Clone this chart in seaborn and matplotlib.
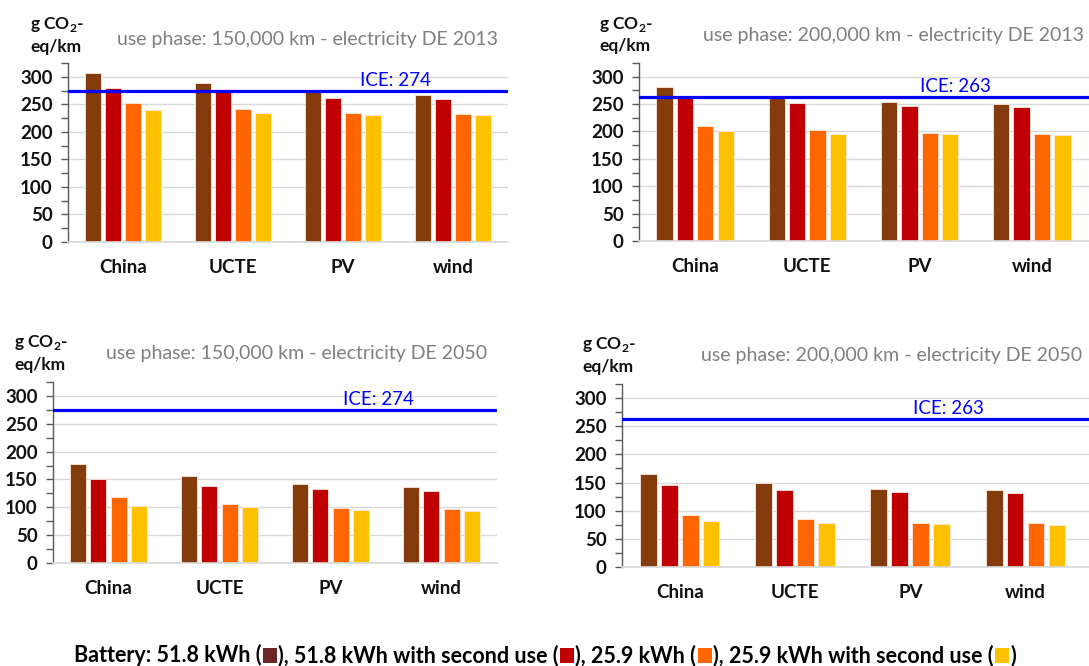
import numpy as np
import pandas as pd
import matplotlib
matplotlib.use("Agg")
import matplotlib.pyplot as plt
import matplotlib.transforms as mtransforms
from matplotlib.ticker import MultipleLocator
from matplotlib.offsetbox import TextArea, DrawingArea, HPacker, AnchoredOffsetbox
from matplotlib.patches import Rectangle
import seaborn as sns

# ---------------------------------------------------------------- data
regions = ["China", "UCTE", "PV", "wind"]
batteries = ["51.8 kWh", "51.8 kWh with second use", "25.9 kWh", "25.9 kWh with second use"]

# use phase 150,000 km, electricity DE 2013 (g CO2-eq/km)
km150_de2013_518 = [307, 288, 273, 267]
km150_de2013_518_second = [280, 272, 261, 260]
km150_de2013_259 = [252, 242, 234, 233]
km150_de2013_259_second = [240, 234, 230, 230]

# use phase 200,000 km, electricity DE 2013
km200_de2013_518 = [281, 261, 254, 250]
km200_de2013_518_second = [261, 252, 246, 245]
km200_de2013_259 = [210, 203, 197, 196]
km200_de2013_259_second = [200, 196, 195, 193]

# use phase 150,000 km, electricity DE 2050
km150_de2050_518 = [178, 157, 141, 137]
km150_de2050_518_second = [150, 139, 132, 130]
km150_de2050_259 = [118, 106, 99, 97]
km150_de2050_259_second = [103, 100, 95, 94]

# use phase 200,000 km, electricity DE 2050
km200_de2050_518 = [166, 150, 139, 136]
km200_de2050_518_second = [146, 137, 133, 132]
km200_de2050_259 = [92, 85, 79, 78]
km200_de2050_259_second = [82, 78, 76, 75]

# combustion-engine reference per use-phase length
ice_150k = 274
ice_200k = 263

titles = [
    "use phase: 150,000 km - electricity DE 2013",
    "use phase: 200,000 km - electricity DE 2013",
    "use phase: 150,000 km - electricity DE 2050",
    "use phase: 200,000 km - electricity DE 2050",
]

bar_colors = ["#843C0C", "#C00000", "#FF6600", "#FFC000"]
key_colors = ["#6B2626", "#C00000", "#FF6600", "#FFC000"]

# ---------------------------------------------------------------- style
sns.set_theme(style="white")
plt.rcParams["font.family"] = ["Lato", "DejaVu Sans"]
plt.rcParams["mathtext.fontset"] = "custom"
plt.rcParams["mathtext.rm"] = "Lato"
plt.rcParams["mathtext.bf"] = "Lato:bold"

W, H = 1089, 666
fig = plt.figure(figsize=(W / 100, H / 100), dpi=100)
INK = "#111111"


def fx(px):
    return px / W


def fy(py):
    return 1 - py / H


def panel(values, ice, title, box, title_xy, ylab_xy, ice_x, xmax=3.5):
    left, right, y_zero, y_top = box
    ax = fig.add_axes([fx(left), fy(y_zero), (right - left) / W, (y_zero - y_top) / H])
    df = pd.DataFrame({
        "region": regions * len(batteries),
        "battery": np.repeat(batteries, len(regions)),
        "value": np.concatenate(values),
    })
    sns.barplot(data=df, x="region", y="value", hue="battery", hue_order=batteries,
                palette=bar_colors, width=0.727, gap=0.2, ax=ax, legend=False,
                edgecolor="#FBE9E0", linewidth=0.6, saturation=1)
    ax.set_xlim(-0.5, xmax)
    ax.set_ylim(0, 325)
    ax.set_xlabel("")
    ax.set_ylabel("")
    ax.yaxis.set_major_locator(MultipleLocator(50))
    ax.yaxis.set_minor_locator(MultipleLocator(25))
    ax.grid(axis="y", which="major", color="#D9D9D9", lw=1)
    ax.set_axisbelow(True)
    for s in ("top", "right"):
        ax.spines[s].set_visible(False)
    ax.spines["bottom"].set_color("#D9D9D9")
    ax.spines["left"].set_color("#595959")
    ax.spines["left"].set_linewidth(1)
    ax.tick_params(axis="y", which="both", direction="out", left=True, length=5,
                   width=1, color="#595959", pad=6)
    ax.tick_params(axis="y", labelsize=13.5, labelcolor=INK)
    for t in ax.get_yticklabels():
        t.set_fontweight("bold")
    ax.tick_params(axis="x", length=0, pad=12, labelsize=13.5, labelcolor=INK)
    for t in ax.get_xticklabels():
        t.set_fontweight("bold")

    ax.axhline(ice, color="#0000FF", lw=2.3, zorder=5)
    trans = mtransforms.blended_transform_factory(ax.transAxes, ax.transData)
    ax.text(ice_x, ice + 9, f"ICE: {ice}", transform=trans, ha="center",
            va="baseline", color="#0000FF", fontsize=13.5)

    fig.text(fx(title_xy[0]), fy(title_xy[1]), title, ha="right", va="center",
             color="#7F7F7F", fontsize=14)
    fig.text(fx(ylab_xy[0]), fy(ylab_xy[1]), r"g CO$_{\mathbf{2}}$-", ha="left",
             va="center", fontsize=12.5, fontweight="bold", color=INK)
    fig.text(fx(ylab_xy[0]), fy(ylab_xy[1] + 22), "eq/km", ha="left",
             va="center", fontsize=12.5, fontweight="bold", color=INK)
    return ax


panel([km150_de2013_518, km150_de2013_518_second, km150_de2013_259, km150_de2013_259_second],
      ice_150k, titles[0], (68, 508, 242, 63), (498, 40), (30, 25), 0.745)
panel([km200_de2013_518, km200_de2013_518_second, km200_de2013_259, km200_de2013_259_second],
      ice_200k, titles[1], (639, 1089, 241, 63), (1084, 35), (599, 24), 0.703, xmax=3.51)
panel([km150_de2050_518, km150_de2050_518_second, km150_de2050_259, km150_de2050_259_second],
      ice_150k, titles[2], (53, 497, 563, 382), (487, 353), (14, 343), 0.732)
panel([km200_de2050_518, km200_de2050_518_second, km200_de2050_259, km200_de2050_259_second],
      ice_200k, titles[3], (622, 1089, 567, 384), (1082, 355), (582, 345), 0.70, xmax=3.55)

# ---------------------------------------------------------------- key line
tp = dict(fontsize=15.5, fontweight="bold", color="black", family=["Lato", "DejaVu Sans"])
pieces = []
texts = ["Battery: 51.8 kWh (", "), 51.8 kWh with second use (", "), 25.9 kWh (",
         "), 25.9 kWh with second use ("]
for txt, col in zip(texts, key_colors):
    pieces.append(TextArea(txt, textprops=tp))
    da = DrawingArea(11, 11, 0, 0)
    da.add_artist(Rectangle((0.5, -1.0), 10, 11, facecolor=col, edgecolor="none"))
    pieces.append(da)
pieces.append(TextArea(")", textprops=tp))
row = HPacker(children=pieces, align="baseline", pad=0, sep=0.5)
box = AnchoredOffsetbox(loc="center", child=row, frameon=False,
                        bbox_to_anchor=(fx(545), fy(655)), bbox_transform=fig.transFigure,
                        borderpad=0)
fig.add_artist(box)

fig.savefig("out.png", dpi=100, facecolor="white")
